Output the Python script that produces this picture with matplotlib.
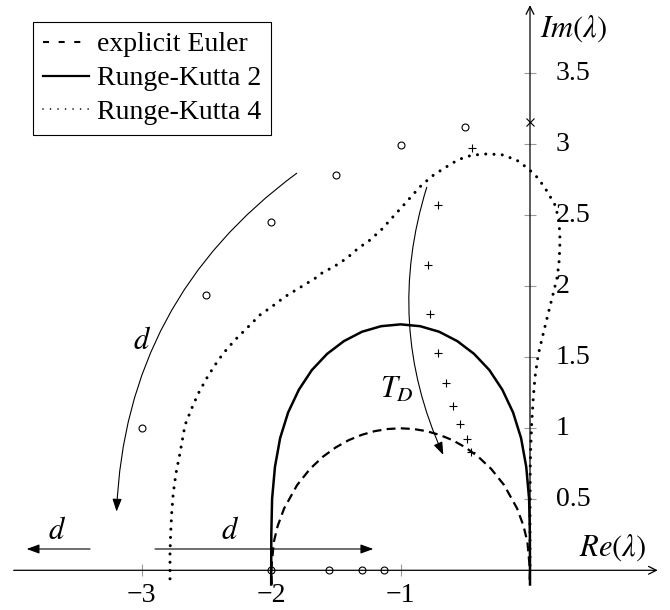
import matplotlib.pyplot as plt
from matplotlib.lines import Line2D

plt.rcParams['font.family'] = ['Liberation Serif', 'DejaVu Serif']
plt.rcParams['mathtext.fontset'] = 'stix'
plt.rcParams['font.size'] = 20

# stability boundaries, upper half of the complex plane (Re, Im)
euler_re = [-1.995, -2.0, -1.98, -1.95, -1.9, -1.8, -1.7, -1.6, -1.5, -1.4, -1.3, -1.2, -1.1, -1.0,
            -0.9, -0.8, -0.7, -0.6, -0.5, -0.4, -0.3, -0.2, -0.1, -0.05, -0.02, 0.0, -0.005]
euler_im = [-0.1, 0.0, 0.199, 0.312, 0.436, 0.6, 0.714, 0.8, 0.866, 0.917, 0.954, 0.98, 0.995, 1.0,
            0.995, 0.98, 0.954, 0.917, 0.866, 0.8, 0.714, 0.6, 0.436, 0.312, 0.199, 0.0, -0.1]

rk2_re = [-2.0, -2.0, -1.999, -1.993, -1.971, -1.931, -1.869, -1.786, -1.686, -1.568, -1.438, -1.298, -1.151, -1.0,
          -0.849, -0.702, -0.562, -0.432, -0.314, -0.214, -0.131, -0.069, -0.029, -0.007, -0.001, 0.0, 0.0]
rk2_im = [-0.1, 0.0, 0.259, 0.504, 0.728, 0.931, 1.112, 1.272, 1.41, 1.524, 1.614, 1.68, 1.719, 1.732,
          1.719, 1.68, 1.614, 1.524, 1.41, 1.272, 1.112, 0.931, 0.728, 0.504, 0.259, 0.0, -0.1]

rk4_re = [-2.782, -2.782, -2.777, -2.769, -2.757, -2.736, -2.705, -2.666, -2.614, -2.563, -2.499, -2.434,
          -2.37, -2.28, -2.189, -2.087, -1.996, -1.893, -1.78, -1.661, -1.61, -1.507, -1.417, -1.327,
          -1.236, -1.146, -1.069, -0.992, -0.914, -0.837, -0.75, -0.67, -0.554, -0.451, -0.335, -0.219,
          -0.103, -0.013, 0.064, 0.129, 0.193, 0.224, 0.232, 0.226, 0.211, 0.18, 0.141, 0.103, 0.064,
          0.039, 0.026, 0.013, 0.005, 0.002, 0.0, 0.0]
rk4_im = [-0.06, 0.12, 0.261, 0.401, 0.542, 0.683, 0.824, 1.023, 1.141, 1.246, 1.352, 1.446,
          1.528, 1.622, 1.704, 1.798, 1.856, 1.927, 1.99, 2.056, 2.092, 2.143, 2.197, 2.268,
          2.326, 2.401, 2.479, 2.556, 2.636, 2.713, 2.78, 2.828, 2.892, 2.923, 2.932, 2.927,
          2.889, 2.828, 2.76, 2.673, 2.573, 2.467, 2.326, 2.185, 2.068, 1.951, 1.81, 1.669, 1.52,
          1.363, 1.223, 1.035, 0.847, 0.73, 0.4, 0.0]

# eigenvalues
circ_re = [-3.0, -2.5, -2.0, -1.5, -1.0, -0.5, -2.0, -1.551, -1.296, -1.126]
circ_im = [1.0, 1.94, 2.455, 2.784, 2.995, 3.12, 0.0, 0.0, 0.0, 0.0]
plus_re = [-0.451, -0.713, -0.791, -0.773, -0.713, -0.652, -0.595, -0.541, -0.489, -0.456]
plus_im = [2.972, 2.57, 2.15, 1.803, 1.532, 1.321, 1.157, 1.028, 0.925, 0.831]
cross_re = [0.0]
cross_im = [3.155]

xticks = [-3, -2, -1]
yticks = [0.5, 1, 1.5, 2, 2.5, 3, 3.5]

labels = ['explicit Euler', 'Runge-Kutta 2', 'Runge-Kutta 4']

fig = plt.figure(figsize=(6.7, 6.1), dpi=100)
ax = fig.add_axes([0, 0, 1, 1])
ax.set_xlim(-4.0958, 1.0819)
ax.set_ylim(-0.2796, 4.0162)
ax.axis('off')

# coordinate axes with arrow tips
axis_arrow = dict(arrowstyle='->,head_length=0.4,head_width=0.2', lw=0.9, color='black',
                  shrinkA=0, shrinkB=0, mutation_scale=14)
ax.annotate('', xy=(0.987, 0), xytext=(-3.99, 0), arrowprops=axis_arrow)
ax.annotate('', xy=(0, 3.98), xytext=(0, -0.1), arrowprops=axis_arrow)

ax.plot(xticks, [0] * len(xticks), ls='', marker='|', ms=8, mew=0.8, color='#999999')
ax.plot([0] * len(yticks), yticks, ls='', marker='_', ms=8, mew=0.8, color='#999999')
for x in xticks:
    ax.text(x, -0.175, '\u2212%d' % abs(x), ha='center', va='center')
for y in yticks:
    ax.text(0.2, y, '%g' % y, ha='left', va='center')
ax.text(0.077, 3.816, r'$Im(\lambda)$', ha='left', va='center', fontsize=22)
ax.text(0.902, 0.16, r'$Re(\lambda)$', ha='right', va='center', fontsize=22)

# stability region boundaries
ax.plot(euler_re, euler_im, color='black', lw=1.6, ls=(0, (4.0, 2.4)))
ax.plot(rk2_re, rk2_im, color='black', lw=1.8)
ax.plot(rk4_re, rk4_im, color='black', lw=2.2, ls=(0, (0.01, 2.7)), dash_capstyle='round')

ax.plot(circ_re, circ_im, ls='', marker='o', ms=5, mfc='none', mec='black', mew=0.8)
ax.plot(plus_re, plus_im, ls='', marker='+', ms=6, mec='black', mew=0.8)
ax.plot(cross_re, cross_im, ls='', marker='x', ms=6, mec='black', mew=0.8)

# direction arrows
arrow = dict(arrowstyle='-|>,head_length=0.55,head_width=0.2', lw=0.8, color='black',
             shrinkA=0, shrinkB=0, mutation_scale=14)
ax.annotate('', xy=(-3.195, 0.413), xytext=(-1.803, 2.796),
            arrowprops=dict(arrow, connectionstyle='arc3,rad=0.24'))
ax.annotate('', xy=(-0.67, 0.812), xytext=(-0.798, 2.697),
            arrowprops=dict(arrow, connectionstyle='arc3,rad=0.19'))
ax.annotate('', xy=(-3.89, 0.15), xytext=(-3.40, 0.15), arrowprops=arrow)
ax.annotate('', xy=(-1.211, 0.15), xytext=(-2.898, 0.15), arrowprops=arrow)

ax.text(-3.001, 1.61, r'$d$', ha='center', va='center', fontsize=22)
ax.text(-3.658, 0.272, r'$d$', ha='center', va='center', fontsize=22)
ax.text(-2.318, 0.272, r'$d$', ha='center', va='center', fontsize=22)
ax.text(-1.03, 1.27, r'$T_D$', ha='center', va='center', fontsize=22)

handles = [Line2D([], [], color='black', lw=1.5, ls=(0, (2.9, 4.6))),
           Line2D([], [], color='black', lw=1.6),
           Line2D([], [], color='black', lw=1.2, ls=(0, (0.01, 4.5)), dash_capstyle='round')]
leg = ax.legend(handles, labels, loc='upper left', bbox_to_anchor=(33.3 / 670, 1 - 22.3 / 610),
                frameon=True, fancybox=False, edgecolor='black', framealpha=1,
                borderpad=0.35, handlelength=1.65, handletextpad=0.28, labelspacing=0.3,
                borderaxespad=0)
leg.get_frame().set_linewidth(0.8)

fig.savefig('out.png', dpi=100)
